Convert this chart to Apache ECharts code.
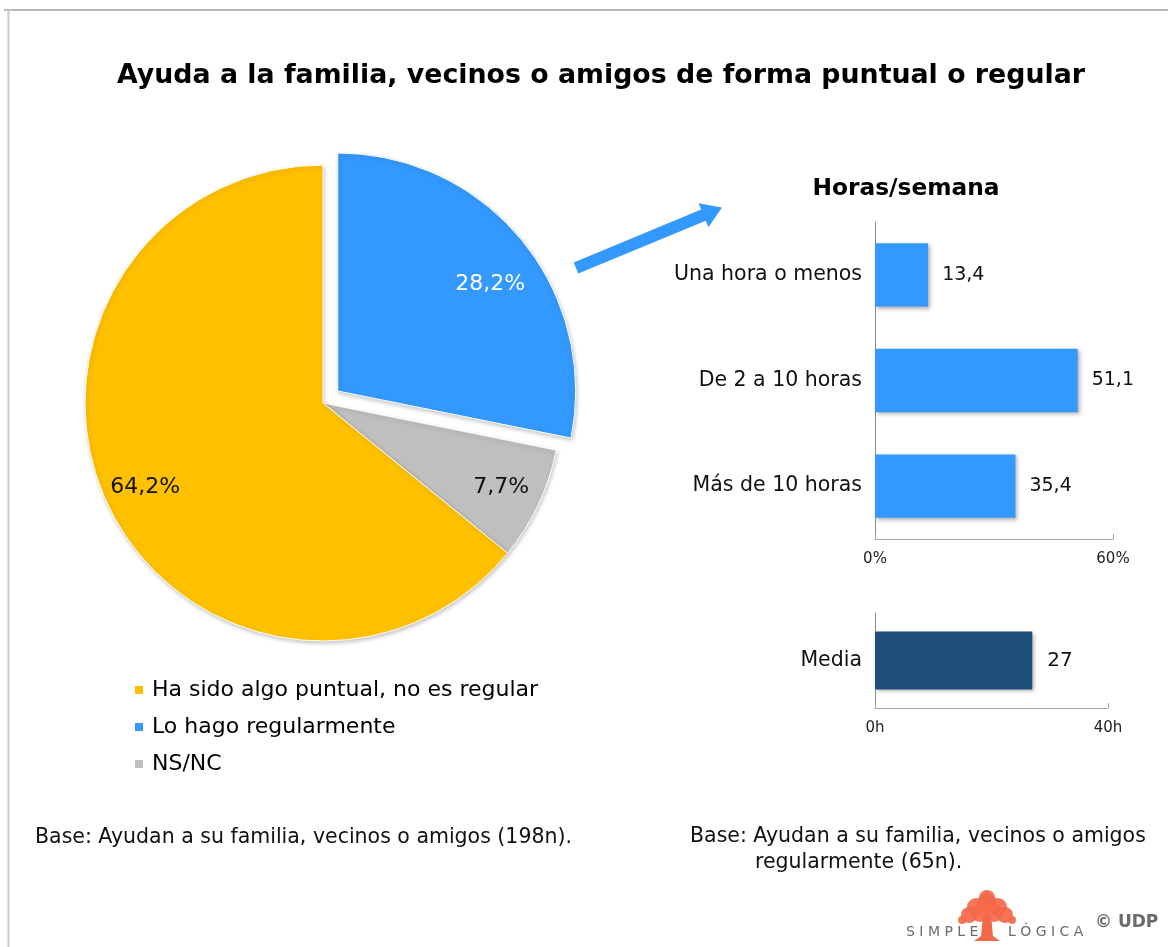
<!DOCTYPE html>
<html>
<head>
<meta charset="utf-8">
<script src="https://cdn.jsdelivr.net/npm/echarts@6/dist/echarts.min.js"></script>
<style>
  html, body { margin: 0; padding: 0; background: #fff; }
  #main { width: 1168px; height: 947px; }
</style>
</head>
<body>
<div id="main"></div>
<script>
// datos del gráfico de tarta
const pieNames = ['Lo hago regularmente', 'NS/NC', 'Ha sido algo puntual, no es regular'];
const pieValues = [28.2, 7.7, 64.2];
const pieColors = ['#3399ff', '#bfbfbf', '#ffc000'];
const legendOrder = ['Ha sido algo puntual, no es regular', 'Lo hago regularmente', 'NS/NC'];

// horas/semana
const horasCats = ['Una hora o menos', 'De 2 a 10 horas', 'Más de 10 horas'];
const horasValues = [13.4, 51.1, 35.4];
const horasTicks = [0, 60];

// media
const mediaCats = ['Media'];
const mediaValues = [27];
const mediaTicks = [0, 40];

const FONT = '"DejaVu Sans", "Liberation Sans", Arial, sans-serif';
const fmtComma = (v) => String(v).replace('.', ',');

const myChart = echarts.init(document.getElementById('main'));

let pieData = pieNames.map((name, i) => ({
  name: name,
  value: pieValues[i],
  selected: i === 0,
  itemStyle: { color: pieColors[i] },
}));

// flecha, coordenadas locales sobre el eje x
const arrowLen = 158;
const arrowShape = [
  [0, -6], [arrowLen - 20, -6], [arrowLen - 20, -13], [arrowLen, 0],
  [arrowLen - 20, 13], [arrowLen - 20, 6], [0, 6],
];

// árbol del logo
const treeBlobs = [
  [987, 903, 10], [976, 907, 9], [998, 907, 9], [969, 915, 8], [1005, 915, 8],
  [987, 898, 8], [980, 913, 9], [994, 913, 9], [962, 920, 4], [1012, 920, 4],
];

const option = {
  animation: false,
  textStyle: { fontFamily: FONT },
  title: [
    {
      text: 'Ayuda a la familia, vecinos o amigos de forma puntual o regular',
      left: 596,
      top: 58,
      textAlign: 'center',
      textStyle: { fontSize: 26.8, fontWeight: 'bold', color: '#000', fontFamily: FONT },
    },
    {
      text: 'Horas/semana',
      left: 901,
      top: 172,
      textAlign: 'center',
      textStyle: { fontSize: 23.3, fontWeight: 'bold', color: '#000', fontFamily: FONT },
    },
  ],
  legend: {
    data: legendOrder,
    orient: 'vertical',
    left: 133,
    top: 679,
    padding: 0,
    icon: 'rect',
    itemWidth: 10,
    itemHeight: 10,
    itemGap: 15,
    selectedMode: false,
    textStyle: { fontSize: 22, color: '#000', fontFamily: FONT, padding: [0, 0, 0, 3] },
  },
  grid: [
    { left: 875, top: 222, width: 238, height: 317 },
    { left: 875, top: 613, width: 233, height: 95 },
  ],
  xAxis: [
    {
      gridIndex: 0,
      type: 'value',
      min: horasTicks[0],
      max: horasTicks[1],
      interval: horasTicks[1],
      axisLine: { show: true, lineStyle: { color: '#a6a6a6' } },
      axisTick: { show: true, inside: true, length: 5, lineStyle: { color: '#a6a6a6' } },
      splitLine: { show: false },
      axisLabel: { formatter: '{value}%', fontSize: 15, color: '#222', margin: 13 },
    },
    {
      gridIndex: 1,
      type: 'value',
      min: mediaTicks[0],
      max: mediaTicks[1],
      interval: mediaTicks[1],
      axisLine: { show: true, lineStyle: { color: '#a6a6a6' } },
      axisTick: { show: true, inside: true, length: 5, lineStyle: { color: '#a6a6a6' } },
      splitLine: { show: false },
      axisLabel: { formatter: '{value}h', fontSize: 15, color: '#222', margin: 13 },
    },
  ],
  yAxis: [
    {
      gridIndex: 0,
      type: 'category',
      data: horasCats,
      inverse: true,
      axisLine: { show: true, lineStyle: { color: '#8c8c8c' } },
      axisTick: { show: false },
      axisLabel: { fontSize: 20.5, color: '#111', margin: 13 },
    },
    {
      gridIndex: 1,
      type: 'category',
      data: mediaCats,
      axisLine: { show: true, lineStyle: { color: '#8c8c8c' } },
      axisTick: { show: false },
      axisLabel: { fontSize: 20.5, color: '#111', margin: 13 },
    },
  ],
  series: [
    {
      type: 'pie',
      center: [323, 403],
      radius: [0, 238],
      startAngle: 90,
      selectedMode: 'single',
      selectedOffset: 19,
      silent: true,
      label: { show: false },
      labelLine: { show: false },
      itemStyle: {
        borderColor: '#fff',
        borderWidth: 1,
        shadowBlur: 4,
        shadowOffsetX: 1,
        shadowOffsetY: 2,
        shadowColor: 'rgba(0,0,0,0.22)',
      },
      data: pieData,
    },
    {
      // solo para las etiquetas, más hacia fuera
      type: 'pie',
      center: [323, 403],
      radius: [150, 238],
      startAngle: 90,
      selectedMode: 'single',
      selectedOffset: 19,
      silent: true,
      itemStyle: { color: 'rgba(0,0,0,0)' },
      label: {
        show: true,
        position: 'inside',
        fontSize: 22,
        fontFamily: FONT,
        formatter: (p) => fmtComma(p.value) + '%',
      },
      // la etiqueta azul va algo más abajo
      labelLayout: (params) => (params.dataIndex === 0 ? { dy: 18 } : {}),
      labelLine: { show: false },
      data: pieData.map((d, i) => ({
        name: d.name,
        value: d.value,
        selected: d.selected,
        itemStyle: { color: 'rgba(0,0,0,0)' },
        label: { color: i === 0 ? '#fff' : '#111' },
      })),
    },
    {
      type: 'bar',
      xAxisIndex: 0,
      yAxisIndex: 0,
      data: horasValues,
      barWidth: '60%',
      itemStyle: {
        color: '#3399ff',
        shadowBlur: 4,
        shadowOffsetX: 2,
        shadowOffsetY: 2,
        shadowColor: 'rgba(0,0,0,0.3)',
      },
      label: {
        show: true,
        position: 'right',
        distance: 14,
        fontSize: 19,
        color: '#111',
        formatter: (p) => fmtComma(p.value),
      },
    },
    {
      type: 'bar',
      xAxisIndex: 1,
      yAxisIndex: 1,
      data: mediaValues,
      barWidth: '61%',
      itemStyle: {
        color: '#1f4e79',
        shadowBlur: 4,
        shadowOffsetX: 2,
        shadowOffsetY: 2,
        shadowColor: 'rgba(0,0,0,0.3)',
      },
      label: {
        show: true,
        position: 'right',
        distance: 15,
        fontSize: 20,
        color: '#111',
      },
    },
  ],
  graphic: [
    // marco
    { type: 'line', shape: { x1: 4, y1: 10, x2: 1168, y2: 10 }, style: { stroke: '#a0a0a0', lineWidth: 1.5 } },
    { type: 'line', shape: { x1: 8.5, y1: 10, x2: 8.5, y2: 947 }, style: { stroke: '#cccccc', lineWidth: 2 } },
    // flecha
    {
      type: 'polygon',
      x: 576,
      y: 268,
      rotation: 0.393,
      shape: { points: arrowShape },
      style: { fill: '#3399ff' },
    },
    // textos de base
    {
      type: 'text',
      left: 35,
      top: 827,
      style: { text: 'Base: Ayudan a su familia, vecinos o amigos (198n).', font: '20.5px ' + FONT, fill: '#111' },
    },
    {
      type: 'text',
      left: 690,
      top: 826,
      style: { text: 'Base: Ayudan a su familia, vecinos o amigos', font: '20.5px ' + FONT, fill: '#111' },
    },
    {
      type: 'text',
      left: 755,
      top: 852,
      style: { text: 'regularmente (65n).', font: '20.5px ' + FONT, fill: '#111' },
    },
    // logo
    ...treeBlobs.map((b) => ({
      type: 'circle',
      shape: { cx: b[0], cy: b[1], r: b[2] },
      style: { fill: '#f5694b', opacity: 0.92 },
    })),
    {
      type: 'polygon',
      shape: { points: [[983, 915], [991, 915], [993, 936], [1000, 941], [974, 941], [981, 936]] },
      style: { fill: '#f5694b' },
    },
    {
      type: 'text',
      left: 906,
      top: 925,
      style: { text: 'S I M P L E', font: '14px ' + FONT, fill: '#6b6b6b' },
    },
    {
      type: 'text',
      left: 1008,
      top: 925,
      style: { text: 'L Ó G I C A', font: '14px ' + FONT, fill: '#6b6b6b' },
    },
    {
      type: 'text',
      left: 1095,
      top: 914,
      style: { text: '© UDP', font: 'bold 17px ' + FONT, fill: '#6b6b6b' },
    },
  ],
};

myChart.setOption(option);
window.addEventListener('resize', () => {
  myChart.resize();
});
</script>
</body>
</html>
